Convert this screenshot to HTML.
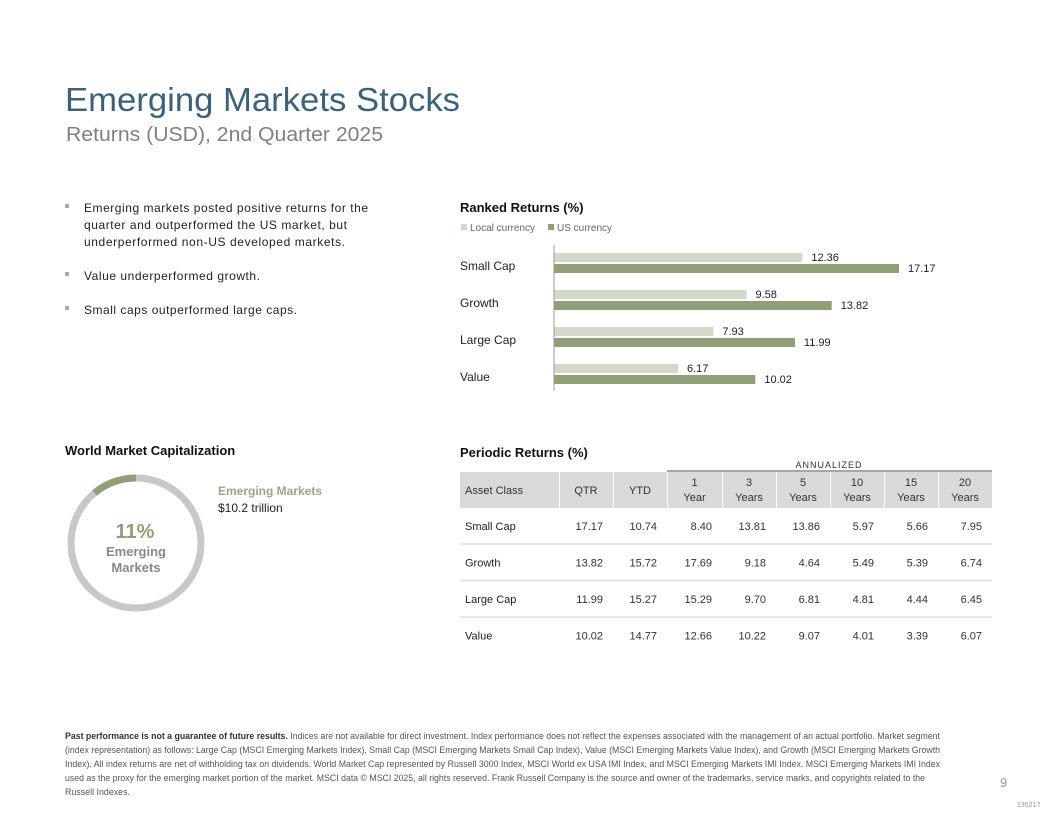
<!DOCTYPE html>
<html><head><meta charset="utf-8">
<style>
html,body{margin:0;padding:0;background:#fff;}
svg{display:block;font-family:"Liberation Sans",Arial,sans-serif;}
</style></head>
<body>
<svg id="page" width="1056" height="816" viewBox="0 0 1056 816" xmlns="http://www.w3.org/2000/svg">
<text x="65" y="111" font-size="33" fill="#3d6177" textLength="395" lengthAdjust="spacingAndGlyphs">Emerging Markets Stocks</text>
<text x="66" y="141" font-size="20" fill="#808080" textLength="317" lengthAdjust="spacingAndGlyphs">Returns (USD), 2nd Quarter 2025</text>

<g font-size="12" fill="#222">
<rect x="65" y="204" width="4" height="4" fill="#aaa"/>
<text x="84" y="212" textLength="284" lengthAdjust="spacing">Emerging markets posted positive returns for the</text>
<text x="84" y="229" textLength="263" lengthAdjust="spacing">quarter and outperformed the US market, but</text>
<text x="84" y="246" textLength="261" lengthAdjust="spacing">underperformed non-US developed markets.</text>
<rect x="65" y="272" width="4" height="4" fill="#aaa"/>
<text x="84" y="280" textLength="176" lengthAdjust="spacing">Value underperformed growth.</text>
<rect x="65" y="306" width="4" height="4" fill="#aaa"/>
<text x="84" y="314" textLength="213" lengthAdjust="spacing">Small caps outperformed large caps.</text>
</g>

<text x="460" y="212" font-size="13" font-weight="bold" fill="#111">Ranked Returns (%)</text>
<g font-size="10" fill="#666">
<rect x="461" y="224" width="6" height="6" fill="#d3d9ca"/><text x="470" y="231">Local currency</text>
<rect x="548" y="224" width="6" height="6" fill="#919f79"/><text x="557" y="231">US currency</text>
</g>
<g id="bars"></g>

<text x="65" y="455" font-size="13" font-weight="bold" fill="#111">World Market Capitalization</text>
<g id="donut"></g>
<text x="135" y="538" font-size="20" font-weight="bold" fill="#919f79" text-anchor="middle">11%</text>
<text x="136" y="556" font-size="13" font-weight="bold" fill="#888" text-anchor="middle">Emerging</text>
<text x="136" y="572" font-size="13" font-weight="bold" fill="#888" text-anchor="middle">Markets</text>
<text x="218" y="495" font-size="12" font-weight="bold" fill="#9aa68a">Emerging Markets</text>
<text x="218" y="512" font-size="12" fill="#222">$10.2 trillion</text>

<text x="460" y="457" font-size="13" font-weight="bold" fill="#111">Periodic Returns (%)</text>
<g id="table"></g>

<g font-size="9" fill="#555">
<text x="65" y="739" textLength="875" lengthAdjust="spacingAndGlyphs"><tspan font-weight="bold" fill="#333">Past performance is not a guarantee of future results.</tspan> Indices are not available for direct investment. Index performance does not reflect the expenses associated with the management of an actual portfolio. Market segment</text>
<text x="65" y="753" textLength="875" lengthAdjust="spacingAndGlyphs">(index representation) as follows: Large Cap (MSCI Emerging Markets Index), Small Cap (MSCI Emerging Markets Small Cap Index), Value (MSCI Emerging Markets Value Index), and Growth (MSCI Emerging Markets Growth</text>
<text x="65" y="767" textLength="875" lengthAdjust="spacingAndGlyphs">Index). All index returns are net of withholding tax on dividends. World Market Cap represented by Russell 3000 Index, MSCI World ex USA IMI Index, and MSCI Emerging Markets IMI Index. MSCI Emerging Markets IMI Index</text>
<text x="65" y="781" textLength="860" lengthAdjust="spacingAndGlyphs">used as the proxy for the emerging market portion of the market. MSCI data © MSCI 2025, all rights reserved. Frank Russell Company is the source and owner of the trademarks, service marks, and copyrights related to the</text>
<text x="65" y="795" textLength="65" lengthAdjust="spacingAndGlyphs">Russell Indexes.</text>
</g>
<text x="1000" y="787" font-size="13" fill="#999">9</text>
<text x="1017" y="807" font-size="7" fill="#999">135217</text>
</svg>
<script>
const NS="http://www.w3.org/2000/svg";
const categories=["Small Cap","Growth","Large Cap","Value"];
const localValues=[12.36,9.58,7.93,6.17];
const usValues=[17.17,13.82,11.99,10.02];
const emShare=11;
const tableHeaders=["Asset Class","QTR","YTD","1|Year","3|Years","5|Years","10|Years","15|Years","20|Years"];
const rowNames=["Small Cap","Growth","Large Cap","Value"];
const rowQTR=["17.17","13.82","11.99","10.02"];
const rowYTD=["10.74","15.72","15.27","14.77"];
const row1Y=["8.40","17.69","15.29","12.66"];
const row3Y=["13.81","9.18","9.70","10.22"];
const row5Y=["13.86","4.64","6.81","9.07"];
const row10Y=["5.97","5.49","4.81","4.01"];
const row15Y=["5.66","5.39","4.44","3.39"];
const row20Y=["7.95","6.74","6.45","6.07"];

function mk(tag,attrs,parent,txt){const e=document.createElementNS(NS,tag);for(const k in attrs)e.setAttribute(k,attrs[k]);if(txt!==undefined)e.textContent=txt;parent.appendChild(e);return e;}

// bar chart
const bars=document.getElementById('bars');
const x0=554, pxPerUnit=(899-554)/17.17;
const xs=v=>x0+v*pxPerUnit;
const yBand=i=>266+i*37;
categories.forEach((c,i)=>{
  const yc=yBand(i);
  const lab=mk('text',{x:460,y:yc+4,'font-size':12,fill:'#222'},bars,c);
  
  
  const b1=mk('rect',{x:x0,y:yc-13,width:xs(localValues[i])-x0,height:9,fill:'#d3d9ca'},bars);
  
  
  const t1=mk('text',{x:xs(localValues[i])+9,y:yc-5,'font-size':11,fill:'#222'},bars,localValues[i].toFixed(2));
  
  
  const b2=mk('rect',{x:x0,y:yc-2,width:xs(usValues[i])-x0,height:9,fill:'#919f79'},bars);
  
  
  const t2=mk('text',{x:xs(usValues[i])+9,y:yc+6,'font-size':11,fill:'#222'},bars,usValues[i].toFixed(2));
  
  
});
const ax=mk('line',{x1:x0,y1:245,x2:x0,y2:391,stroke:'#999','stroke-width':1},bars);



// donut
const d=document.getElementById('donut');
const cx=136,cy=543,r=65;
const ring=mk('circle',{cx,cy,r,fill:'none',stroke:'#c8c8c8','stroke-width':7},d);


const a=-emShare/100*2*Math.PI;
const sx=cx+r*Math.sin(a), sy=cy-r*Math.cos(a);
const arc=mk('path',{d:`M${sx} ${sy} A${r} ${r} 0 0 1 ${cx} ${cy-r}`,fill:'none',stroke:'#919f79','stroke-width':7},d);



// table
const t=document.getElementById('table');
const colEdges=[460,559,613,667,722,776,830,884,938,992];
mk('text',{x:829,y:468,'font-size':9,fill:'#333','text-anchor':'middle','letter-spacing':'1'},t,'ANNUALIZED');
mk('line',{x1:667,y1:471,x2:992,y2:471,stroke:'#888','stroke-width':1.5},t);
tableHeaders.forEach((h,j)=>{
  const cell=mk('rect',{x:colEdges[j]+(j?1:0),y:472,width:colEdges[j+1]-colEdges[j]-(j?1:0),height:36,fill:'#d9d9d9'},t);
  
  
  const parts=h.split('|');
  if(j===0){mk('text',{x:465,y:494,'font-size':11,fill:'#333'},t,h);}
  else if(parts.length===1){mk('text',{x:(colEdges[j]+colEdges[j+1])/2,y:494,'font-size':11,fill:'#333','text-anchor':'middle'},t,h);}
  else{const xm=(colEdges[j]+colEdges[j+1])/2;
    mk('text',{x:xm,y:486,'font-size':11,fill:'#333','text-anchor':'middle'},t,parts[0]);
    mk('text',{x:xm,y:501,'font-size':11,fill:'#333','text-anchor':'middle'},t,parts[1]);}
});
const cols=[rowQTR,rowYTD,row1Y,row3Y,row5Y,row10Y,row15Y,row20Y];
rowNames.forEach((n,i)=>{
  const yc=526+i*36.5;
  const nm=mk('text',{x:465,y:yc+4,'font-size':11,fill:'#222'},t,n);
  
  
  cols.forEach((col,j)=>{
    const c=mk('text',{x:colEdges[j+2]-10,y:yc+4,'font-size':11,fill:'#333','text-anchor':'end'},t,col[i]);
    
    
  });
  if(i<rowNames.length-1){const l=mk('line',{x1:460,y1:yc+18,x2:992,y2:yc+18,stroke:'#ddd','stroke-width':1.5},t);
    
    }
});
</script>
</body></html>
